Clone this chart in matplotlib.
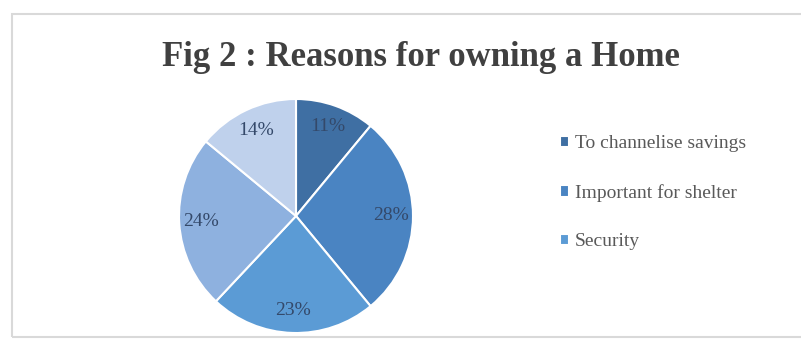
import matplotlib
matplotlib.use("Agg")
import matplotlib.pyplot as plt
from matplotlib.patches import Rectangle

# Data
shares = [11, 28, 23, 24, 14]
pct_labels = ["11%", "28%", "23%", "24%", "14%"]
legend_labels = ["To channelise savings", "Important for shelter", "Security"]
colors = ["#3f6fa3", "#4a84c2", "#5b9bd5", "#8eb1df", "#bfd1ec"]
title = "Fig 2 : Reasons for owning a Home"

W, H = 801, 339
fig = plt.figure(figsize=(W / 100, H / 100), dpi=100)
fig.patch.set_facecolor("white")

# chart border
fig.add_artist(Rectangle((12 / W, 1 - 337 / H), (W + 10 - 12) / W, (337 - 14) / H,
                         transform=fig.transFigure, fill=False,
                         edgecolor="#d9d9d9", linewidth=1.5))

cx, cy, r = 296, 216, 117
ax = fig.add_axes([(cx - r) / W, (H - cy - r) / H, 2 * r / W, 2 * r / H])
wedges, texts = ax.pie(shares, colors=colors, startangle=90, counterclock=False,
                       labels=pct_labels, labeldistance=0.81,
                       wedgeprops=dict(edgecolor="white", linewidth=1.5),
                       textprops=dict(family="Liberation Serif", fontsize=14,
                                      color="#34496a", ha="center", va="center"))
ax.set_xlim(-1, 1)
ax.set_ylim(-1, 1)
ax.set_aspect("equal")

fig.text(421 / W, 1 - 57 / H, title, ha="center", va="center",
         family="Liberation Serif", fontweight="bold", fontsize=25, color="#404040")

leg = fig.legend(wedges[:3], legend_labels, loc="upper left",
                 bbox_to_anchor=(542 / W, 1 - 118 / H), frameon=False,
                 prop=dict(family="Liberation Serif", size=14),
                 handlelength=0.5, handleheight=0.5, handletextpad=0.3,
                 labelspacing=1.62, labelcolor="#595959")

fig.savefig("out.png", dpi=100, facecolor="white")
